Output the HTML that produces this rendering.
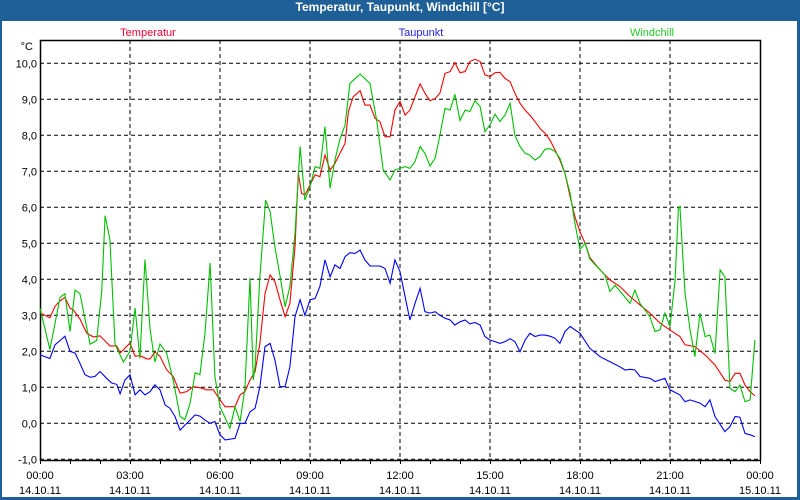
<!DOCTYPE html>
<html><head><meta charset="utf-8">
<style>
html,body{margin:0;padding:0;background:#fff;}
#win{position:relative;width:800px;height:500px;background:#1f5f97;overflow:hidden;}
#inner{position:absolute;left:2px;top:21px;width:795px;height:476px;background:#fff;}
#title{position:absolute;left:0;top:0;width:800px;height:21px;line-height:20px;text-align:center;color:#fff;font:bold 12px "Liberation Sans",sans-serif;}
svg{position:absolute;left:0;top:0;}
text{font-family:"Liberation Sans",sans-serif;font-size:11px;}
</style></head><body>
<div id="win">
<div id="title">Temperatur, Taupunkt, Windchill [°C]</div>
<div id="inner"></div>
<svg id="chart" width="800" height="500"></svg>
</div>
<script>
const yTicks=[-1,0,1,2,3,4,5,6,7,8,9,10];
const xTickHours=[0,3,6,9,12,15,18,21,24];
const xTickTimes=["00:00","03:00","06:00","09:00","12:00","15:00","18:00","21:00","00:00"];
const xTickDates=["14.10.11","14.10.11","14.10.11","14.10.11","14.10.11","14.10.11","14.10.11","14.10.11","15.10.11"];
const seriesNames=["Temperatur","Taupunkt","Windchill"];
const tTemp=[0,0.33,0.5,0.67,0.83,1,1.11,1.33,1.56,1.78,2,2.33,2.56,2.67,3,3.17,3.33,3.56,3.67,3.83,4,4.22,4.44,4.67,4.89,5.11,5.33,5.56,5.78,6,6.17,6.5,6.67,6.83,7,7.17,7.33,7.5,7.67,7.83,8,8.17,8.33,8.5,8.61,8.72,8.83,9,9.17,9.33,9.5,9.67,9.83,10,10.17,10.28,10.44,10.67,10.83,11,11.17,11.33,11.5,11.67,11.83,12,12.17,12.33,12.67,12.83,13,13.17,13.33,13.5,13.67,13.83,14,14.17,14.33,14.5,14.67,14.83,15,15.17,15.33,15.5,15.67,15.83,16,16.17,16.33,16.5,16.67,16.83,17,17.17,17.33,17.5,17.67,17.83,18,18.17,18.33,18.67,19,19.33,19.67,20,20.33,20.67,21,21.33,21.5,21.83,22.17,22.5,22.83,23,23.17,23.33,23.5,23.67,23.83];
const vTemp=[3.07,2.93,3.25,3.4,3.5,3.2,3.15,2.9,2.5,2.4,2.43,2.15,2.15,1.95,2.23,1.86,1.88,1.79,1.79,1.98,1.86,1.49,1.3,0.84,0.88,1.02,0.99,0.93,0.93,0.65,0.46,0.46,0.79,0.88,1.2,1.44,2.22,3.6,4.12,3.94,3.43,2.96,3.33,4.9,6.94,6.39,6.34,6.62,6.9,6.85,7.45,7.04,7.22,7.5,7.78,8.66,9.07,9.24,8.84,8.84,8.47,8.38,7.96,7.96,8.7,8.94,8.56,8.7,9.43,9.17,8.96,9.02,9.17,9.72,9.77,10.02,9.74,9.77,10.05,10.11,10.05,9.68,9.63,9.74,9.75,9.58,9.49,9.17,8.89,8.7,8.56,8.38,8.19,8.06,7.87,7.59,7.31,6.94,6.3,5.74,5.32,5.0,4.6,4.26,3.98,3.8,3.52,3.29,3.06,2.78,2.59,2.41,2.18,2.13,1.9,1.62,1.2,1.16,1.39,1.39,1.06,0.88,0.76];
const tDew=[0,0.33,0.5,0.67,0.83,1,1.17,1.33,1.5,1.67,1.83,2,2.22,2.39,2.56,2.67,2.83,3,3.17,3.33,3.5,3.67,3.83,4,4.17,4.33,4.5,4.67,4.83,5,5.17,5.33,5.5,5.67,5.83,6,6.17,6.5,6.67,6.83,7,7.17,7.33,7.5,7.67,7.83,8,8.17,8.33,8.5,8.67,8.83,9,9.17,9.33,9.5,9.67,9.83,10,10.17,10.33,10.5,10.67,10.83,11,11.33,11.5,11.67,11.83,12,12.17,12.33,12.5,12.67,12.83,13,13.17,13.33,13.5,13.67,13.83,14,14.17,14.33,14.5,14.67,14.83,15,15.17,15.33,15.5,15.67,15.83,16,16.17,16.33,16.5,16.67,16.83,17,17.17,17.33,17.5,17.67,18,18.33,18.67,19,19.33,19.5,19.67,19.83,20,20.33,20.5,20.83,21,21.33,21.5,21.67,22,22.17,22.33,22.5,22.83,23,23.17,23.33,23.5,23.67,23.83];
const vDew=[1.9,1.8,2.18,2.3,2.42,2.0,1.95,1.67,1.35,1.28,1.3,1.44,1.25,1.12,1.08,0.82,1.2,1.35,0.79,0.93,0.79,0.88,1.07,0.93,0.51,0.42,0.19,-0.19,-0.05,0.09,0.23,0.2,0.09,0,0.05,-0.32,-0.46,-0.42,0,0,0.32,0.42,1.02,2.13,2.22,1.76,1.02,1.02,1.57,2.96,3.43,3.0,3.43,3.47,3.8,4.54,4.07,4.4,4.3,4.63,4.74,4.72,4.81,4.54,4.37,4.37,4.3,3.89,4.54,4.21,3.52,2.87,3.33,3.75,3.1,3.06,3.1,3.0,2.92,2.87,2.73,2.82,2.87,2.76,2.8,2.73,2.41,2.31,2.27,2.22,2.27,2.35,2.27,1.99,2.31,2.5,2.41,2.45,2.45,2.42,2.36,2.22,2.55,2.69,2.5,2.08,1.85,1.71,1.57,1.48,1.5,1.48,1.3,1.25,1.16,1.25,0.93,0.79,0.6,0.65,0.56,0.46,0.65,0.19,-0.23,-0.09,0.19,0.17,-0.28,-0.32,-0.37];
const tWind=[0,0.33,0.67,0.83,1,1.17,1.33,1.67,1.89,2.06,2.17,2.33,2.5,2.78,3,3.17,3.33,3.5,3.67,3.83,4,4.22,4.44,4.67,4.83,5,5.17,5.33,5.5,5.67,5.83,6,6.33,6.5,6.67,6.83,7,7.11,7.17,7.33,7.52,7.67,7.83,8,8.17,8.33,8.5,8.67,8.83,9,9.17,9.33,9.5,9.67,9.83,10,10.17,10.33,10.67,11,11.22,11.44,11.67,11.83,12,12.17,12.33,12.5,12.67,12.83,13,13.17,13.33,13.5,13.67,13.83,14,14.17,14.33,14.5,14.67,14.83,15,15.17,15.33,15.5,15.67,15.83,16,16.17,16.33,16.5,16.67,16.83,17,17.17,17.33,17.5,17.67,17.83,18,18.17,18.33,18.67,18.83,19,19.17,19.67,19.83,20,20.33,20.5,20.67,20.83,21,21.17,21.28,21.33,21.5,21.67,21.83,22,22.17,22.33,22.5,22.67,22.83,23,23.17,23.33,23.5,23.67,23.83];
const vWind=[3.2,2.05,3.5,3.6,2.55,3.7,3.6,2.2,2.3,3.7,5.77,5.1,2.2,1.7,2.0,3.2,1.8,4.55,2.6,1.7,2.2,1.95,1.2,0.19,0.1,0.55,1.4,1.35,2.5,4.45,1.3,0.46,-0.14,0.46,0.05,0.97,4.03,1.2,1.6,4.07,6.2,5.88,4.9,4.1,3.24,3.8,5.28,7.69,6.2,6.57,7.13,7.08,8.24,6.53,7.31,7.9,8.29,9.44,9.7,9.44,8.43,7.04,6.76,7.04,7.08,7.13,7.08,7.27,7.69,7.5,7.15,7.36,8.0,8.75,8.7,9.14,8.41,8.7,8.66,8.96,8.8,8.1,8.29,8.59,8.38,8.56,8.89,8.0,7.69,7.5,7.45,7.31,7.41,7.61,7.63,7.55,7.36,6.94,6.39,5.56,4.83,5.0,4.56,4.26,4.12,3.66,3.84,3.33,3.7,3.33,2.96,2.55,2.6,3.06,2.69,3.98,5.97,6.02,3.61,2.59,1.85,3.06,2.41,2.45,1.94,4.26,4.07,0.97,0.88,1.06,0.6,0.65,2.31];

const X0=40,X1=760,Y0=40,Y1=460;
function xs(h){return X0+h*(X1-X0)/24;}
function ys(v){return 423.3-v*36;}
const NS="http://www.w3.org/2000/svg";
const svg=document.getElementById('chart');
function mk(tag,attrs,parent){const e=document.createElementNS(NS,tag);for(const k in attrs)e.setAttribute(k,attrs[k]);(parent||svg).appendChild(e);return e;}

// gridlines
yTicks.forEach(v=>{
  const l=mk('line',{x1:X0,x2:X1,y1:ys(v),y2:ys(v),stroke:'#000','stroke-dasharray':'4,3','stroke-width':1});
  
  
  const t=mk('text',{x:37,y:ys(v)+4,'text-anchor':'end',fill:'#000'});
  t.textContent=v.toFixed(1).replace('.',',');
  
  
});
xTickHours.forEach((h,i)=>{
  if(h>0&&h<24){
    const l=mk('line',{x1:xs(h),x2:xs(h),y1:Y0,y2:Y1,stroke:'#000','stroke-dasharray':'4,3','stroke-width':1});
    
    
  }
  const t=mk('text',{x:xs(h),y:479,'text-anchor':'middle',fill:'#000'});
  t.textContent=xTickTimes[i];
  
  
  const d=mk('text',{x:xs(h),y:494,'text-anchor':'middle',fill:'#000'});
  d.textContent=xTickDates[i];
  
  
});
for(let h=0;h<=24;h++){
  const l=mk('line',{x1:xs(h)+0.5,x2:xs(h)+0.5,y1:Y1,y2:Y1+4,stroke:'#000'});
  
  
}
// frame
const fr=mk('rect',{x:X0+0.5,y:Y0+0.5,width:X1-X0,height:Y1-Y0,fill:'none',stroke:'#000','stroke-width':1.5});


const unit=mk('text',{x:33,y:50,'text-anchor':'end',fill:'#000'});
unit.textContent='°C';



function drawSeries(ts,vs,color,name){
  const p=mk('polyline',{points:ts.map((t,i)=>xs(t).toFixed(1)+','+ys(vs[i]).toFixed(1)).join(' '),fill:'none',stroke:color,'stroke-width':1.1});
  
  
}
drawSeries(tDew,vDew,'#0000ff','taupunkt-line');
drawSeries(tTemp,vTemp,'#ff0000','temperatur-line');
drawSeries(tWind,vWind,'#00c000','windchill-line');

const legendX=[148,421,652];
const legendColors=['#ff0033','#2222ee','#22cc22'];
seriesNames.forEach((n,i)=>{
  const t=mk('text',{x:legendX[i],y:36,'text-anchor':'middle',fill:legendColors[i]});
  t.textContent=n;
  
  
});
</script>
</body></html>
